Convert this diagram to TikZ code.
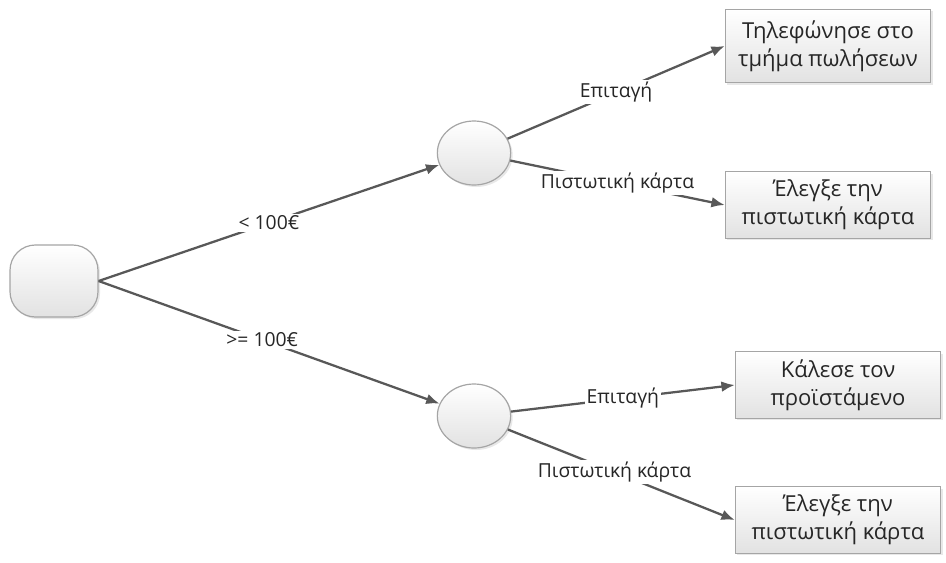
\documentclass[tikz,border=0pt]{standalone}
\usepackage{fontspec}
\setmainfont{Open Sans}
\usetikzlibrary{arrows.meta,shapes.geometric,shadows}
\definecolor{edgegray}{RGB}{88,88,88}
\definecolor{rimgray}{RGB}{165,165,165}
\definecolor{shadegray}{RGB}{226,226,226}
\tikzset{
  rootbox/.style={draw=rimgray, line width=0.9pt, rounded corners=19pt, top color=white,
                  bottom color=shadegray, minimum width=66pt, minimum height=54pt,
                  drop shadow={opacity=0.18, shadow xshift=1.5pt, shadow yshift=-1.5pt}},
  chance/.style ={ellipse, draw=rimgray, line width=0.9pt, top color=white,
                  bottom color=shadegray, minimum width=55pt, minimum height=48pt,
                  drop shadow={opacity=0.18, shadow xshift=1.5pt, shadow yshift=-1.5pt}},
  leaf/.style   ={draw=rimgray, line width=0.9pt, top color=white, bottom color=shadegray,
                  align=center, font=\fontsize{16.5}{21}\selectfont, text=black!85,
                  minimum width=154pt, minimum height=50pt, inner sep=2pt,
                  drop shadow={opacity=0.18, shadow xshift=1.5pt, shadow yshift=-1.5pt}},
  ar/.style     ={-{Latex[length=10pt,width=8pt]}, draw=edgegray, line width=1.7pt},
  lbl/.style    ={fill=white, font=\fontsize{14.5}{17}\selectfont, text=black!85, inner sep=1.5pt},
}
\begin{document}
\begin{tikzpicture}[x=0.75pt,y=-0.75pt]
\useasboundingbox (0,0) rectangle (946,562);
\node[rootbox] (root) at (54,281) {};
\node[chance] (up) at (474,153) {};
\node[chance] (lo) at (474,416) {};
\node[leaf,minimum height=55pt] (call) at (828,46) {Τηλεφώνησε στο\\τμήμα πωλήσεων};
\node[leaf] (cardA) at (828,205) {Έλεγξε την\\πιστωτική κάρτα};
\node[leaf] (boss) at (838,385) {Κάλεσε τον\\προϊστάμενο};
\node[leaf] (cardB) at (838,520) {Έλεγξε την\\πιστωτική κάρτα};
% branches out of the root
\draw[ar] (root.east) -- node[lbl,pos=0.5] {< 100€} (up);
\draw[ar] (root.east) -- node[lbl,pos=0.48] {>= 100€} (lo);
% payment type
\draw[ar] (up) -- node[lbl,pos=0.5] {Επιταγή} (call.west);
\draw[ar] (up) -- node[lbl,pos=0.5] {Πιστωτική κάρτα} (cardA.west);
\draw[ar] (lo) -- node[lbl,pos=0.5] {Επιταγή} (boss.west);
\draw[ar] (lo) -- node[lbl,pos=0.47] {Πιστωτική κάρτα} (cardB.west);
\end{tikzpicture}
\end{document}
